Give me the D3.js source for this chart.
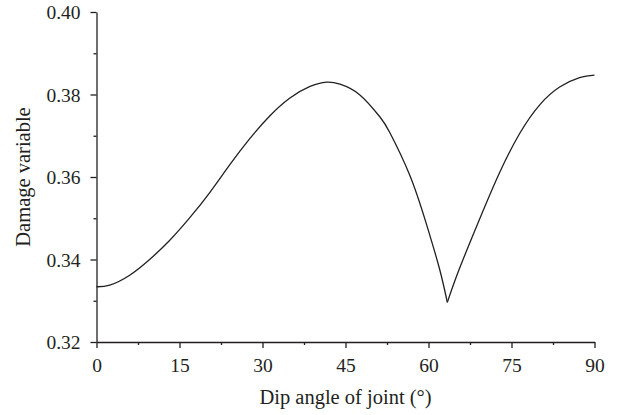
<!DOCTYPE html>
<html>
<head>
<meta charset="utf-8">
<script src="https://cdn.jsdelivr.net/npm/d3@7"></script>
<style>
    body { margin: 0; background: #fff; }
    text { font-family: "Liberation Serif", "DejaVu Serif", serif; fill: #231f20; }
</style>
</head>
<body>
<div id="chart"></div>
<script>
// Values
const angles = [0, 2.4, 6, 9.6, 13.2, 16.9, 20.5, 24.1, 27.7, 31.3, 34.9, 38.5, 41.6, 44, 47.6, 51.2, 53, 56.6, 59.6, 62, 63.4, 65.6, 69.3, 72.9, 76.5, 80.1, 83.7, 87.3, 90];
const damage = [0.3334, 0.3338, 0.3362, 0.3400, 0.3446, 0.3502, 0.3563, 0.3630, 0.3693, 0.3748, 0.3791, 0.3819, 0.3830, 0.3825, 0.3799, 0.3746, 0.3708, 0.3605, 0.3487, 0.3377, 0.3296, 0.3378, 0.3500, 0.3612, 0.3706, 0.3775, 0.3818, 0.3841, 0.3847];
const cuspAngle = 63.4;

const xTicks = [0, 15, 30, 45, 60, 75, 90];
const xMinor = [7.5, 22.5, 37.5, 52.5, 67.5, 82.5];
const yTicks = [0.32, 0.34, 0.36, 0.38, 0.40];
const yMinor = [0.33, 0.35, 0.37, 0.39];

const width = 621, height = 415;
const margin = { top: 12, right: 26.5, bottom: 73, left: 96.5 };

const svg = d3.select('#chart')
    .append('svg')
    .attr('width', width)
    .attr('height', height);

const x = d3.scaleLinear()
    .domain([0, 90])
    .range([margin.left, width - margin.right]);

const y = d3.scaleLinear()
    .domain([0.32, 0.40])
    .range([height - margin.bottom, margin.top]);

const ink = '#231f20';

// minor ticks first (short, outward)
svg.append('g')
    .attr('transform', 'translate(0,' + (height - margin.bottom) + ')')
    .call(d3.axisBottom(x).tickValues(xMinor).tickSize(3).tickFormat(''))
    .call(g => g.select('.domain').remove());

svg.append('g')
    .attr('transform', 'translate(' + margin.left + ',0)')
    .call(d3.axisLeft(y).tickValues(yMinor).tickSize(3).tickFormat(''))
    .call(g => g.select('.domain').remove());

// major axes
const xAxis = svg.append('g')
    .attr('transform', 'translate(0,' + (height - margin.bottom) + ')')
    .call(d3.axisBottom(x).tickValues(xTicks).tickSize(6).tickSizeOuter(0));
xAxis.selectAll('text')
    .attr('y', 30)
    .attr('dy', null)
    .style('font-size', '19.5px');

const yAxis = svg.append('g')
    .attr('transform', 'translate(' + margin.left + ',0)')
    .call(d3.axisLeft(y).tickValues(yTicks).tickSize(6).tickSizeOuter(0).tickFormat(d3.format('.2f')));
yAxis.selectAll('text')
    .attr('x', -16)
    .attr('dy', '0.35em')
    .style('font-size', '19.5px');

svg.selectAll('.domain, .tick line')
    .attr('stroke', ink)
    .attr('stroke-width', 1.3);

// axis titles
svg.append('text')
    .attr('x', (margin.left + width - margin.right) / 2)
    .attr('y', 404)
    .attr('text-anchor', 'middle')
    .style('font-size', '20.5px')
    .text('Dip angle of joint (°)');

svg.append('text')
    .attr('transform', 'translate(29.5,' + ((margin.top + height - margin.bottom) / 2) + ') rotate(-90)')
    .attr('text-anchor', 'middle')
    .style('font-size', '20.5px')
    .text('Damage variable');

// curve, drawn in two pieces so the cusp stays sharp
const points = angles.map((a, i) => ({ a: a, v: damage[i] }));
const line = d3.line()
    .x(d => x(d.a))
    .y(d => y(d.v))
    .curve(d3.curveNatural);

const pieces = [
    points.filter(d => d.a <= cuspAngle),
    points.filter(d => d.a >= cuspAngle)
];

svg.selectAll('path.curve')
    .data(pieces)
    .join('path')
    .attr('class', 'curve')
    .attr('d', line)
    .attr('fill', 'none')
    .attr('stroke', ink)
    .attr('stroke-width', 1.3);
</script>
</body>
</html>
